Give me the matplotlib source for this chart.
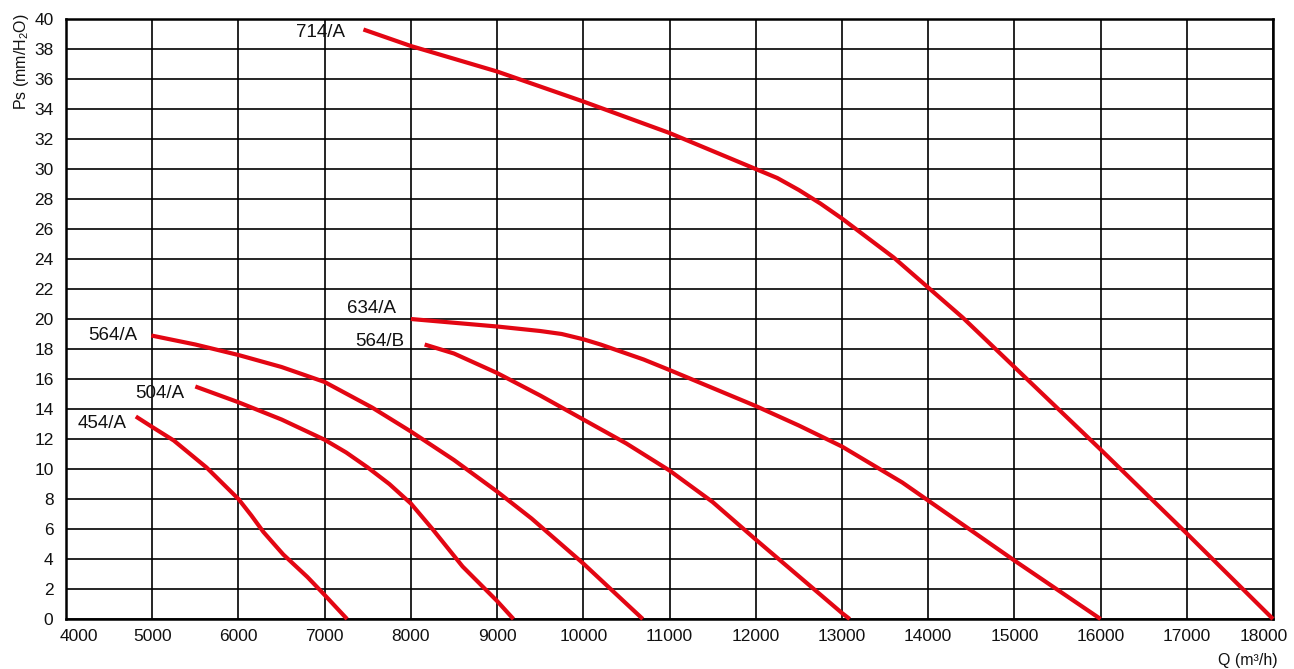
import matplotlib
matplotlib.use("Agg")
import matplotlib.pyplot as plt
from matplotlib.transforms import ScaledTranslation

plt.rcParams['font.family'] = ['Liberation Sans', 'DejaVu Sans']
plt.rcParams['mathtext.fontset'] = 'custom'
plt.rcParams['mathtext.rm'] = 'Liberation Sans'
plt.rcParams['mathtext.it'] = 'Liberation Sans:italic'

RED = '#e30613'

# fan curves: flow Q (m3/h) vs static pressure Ps (mm H2O)
q_454a = [4810, 5000, 5250, 5630, 6000, 6150, 6290, 6520, 6800, 7000, 7260]
p_454a = [13.5, 12.8, 11.9, 10.1, 8.0, 6.9, 5.8, 4.3, 2.8, 1.6, 0]

q_504a = [5500, 6000, 6500, 7000, 7250, 7500, 7750, 8000, 8250, 8600, 9000, 9190]
p_504a = [15.5, 14.45, 13.3, 11.95, 11.1, 10.1, 9.0, 7.7, 6.0, 3.5, 1.2, 0]

q_564a = [4990, 5500, 6000, 6500, 7000, 7550, 8000, 8500, 9000, 9400, 10000, 10690]
p_564a = [18.9, 18.3, 17.6, 16.8, 15.8, 14.1, 12.5, 10.6, 8.5, 6.7, 3.7, 0]

q_564b = [8160, 8500, 9000, 9500, 10000, 10500, 11000, 11500, 12000, 12500, 13000, 13090]
p_564b = [18.3, 17.7, 16.4, 14.9, 13.3, 11.7, 9.9, 7.8, 5.3, 2.85, 0.4, 0]

q_634a = [8000, 9000, 9500, 9750, 10000, 10200, 10400, 10700, 11000, 11500, 12000, 12500,
          13000, 13700, 14000, 15000, 16000]
p_634a = [20.0, 19.5, 19.2, 19.0, 18.65, 18.3, 17.9, 17.3, 16.6, 15.4, 14.2, 12.9,
          11.5, 9.1, 7.9, 3.9, 0]

q_714a = [7450, 8000, 9000, 10000, 11000, 12000, 12250, 12500, 12750, 13000, 13300, 13600,
          14000, 14400, 15000, 15400, 16000, 17000, 18000]
p_714a = [39.3, 38.2, 36.5, 34.5, 32.4, 30.0, 29.4, 28.6, 27.7, 26.7, 25.4, 24.1,
          22.1, 20.1, 16.8, 14.6, 11.3, 5.7, 0]

curve_names = ['454/A', '504/A', '564/A', '564/B', '634/A', '714/A']
# where each name sits (right edge of text), in data units
label_q = [4700, 5370, 4825, 7930, 7830, 7240]
label_p = [13.0, 15.0, 18.9, 18.5, 20.7, 39.1]

x_ticks = list(range(4000, 18001, 1000))
y_ticks = list(range(0, 41, 2))

fig = plt.figure(figsize=(12.94, 6.69), dpi=100)
ax = fig.add_axes([66 / 1294, 1 - 619 / 669, (1273 - 66) / 1294, 600 / 669])

curves = [(q_454a, p_454a), (q_504a, p_504a), (q_564a, p_564a),
          (q_564b, p_564b), (q_634a, p_634a), (q_714a, p_714a)]
for q, p in curves:
    ax.plot(q, p, color=RED, lw=3.0, solid_capstyle='butt', solid_joinstyle='round',
            zorder=3, clip_on=False)

for name, lq, lp in zip(curve_names, label_q, label_p):
    ax.text(lq, lp, name, ha='right', va='center', fontsize=13.5, color='#111111', zorder=4)

ax.set_xlim(4000, 18000)
ax.set_ylim(0, 40)
ax.set_xticks(x_ticks)
ax.set_yticks(y_ticks)
ax.grid(True, color='black', lw=1.2)
ax.set_axisbelow(True)
for s in ax.spines.values():
    s.set_linewidth(1.8)
ax.tick_params(length=0, labelsize=12.5, colors='#111111')
ax.tick_params(axis='y', pad=9)
ax.tick_params(axis='x', pad=7)

# nudge the end labels inwards like the original
xl = ax.get_xticklabels()
xl[0].set_transform(xl[0].get_transform() + ScaledTranslation(13 / 100, 0, fig.dpi_scale_trans))
xl[-1].set_transform(xl[-1].get_transform() + ScaledTranslation(-9 / 100, 0, fig.dpi_scale_trans))

fig.text(22 / 1294, 1 - 62 / 669, 'Ps (mm/H$_2$O)', rotation=90, ha='center', va='center',
         fontsize=11.5, color='#111111')
fig.text(1278 / 1294, 1 - 660 / 669, 'Q (m³/h)', ha='right', va='center',
         fontsize=11.5, color='#111111')

fig.savefig('out.png', dpi=100)
